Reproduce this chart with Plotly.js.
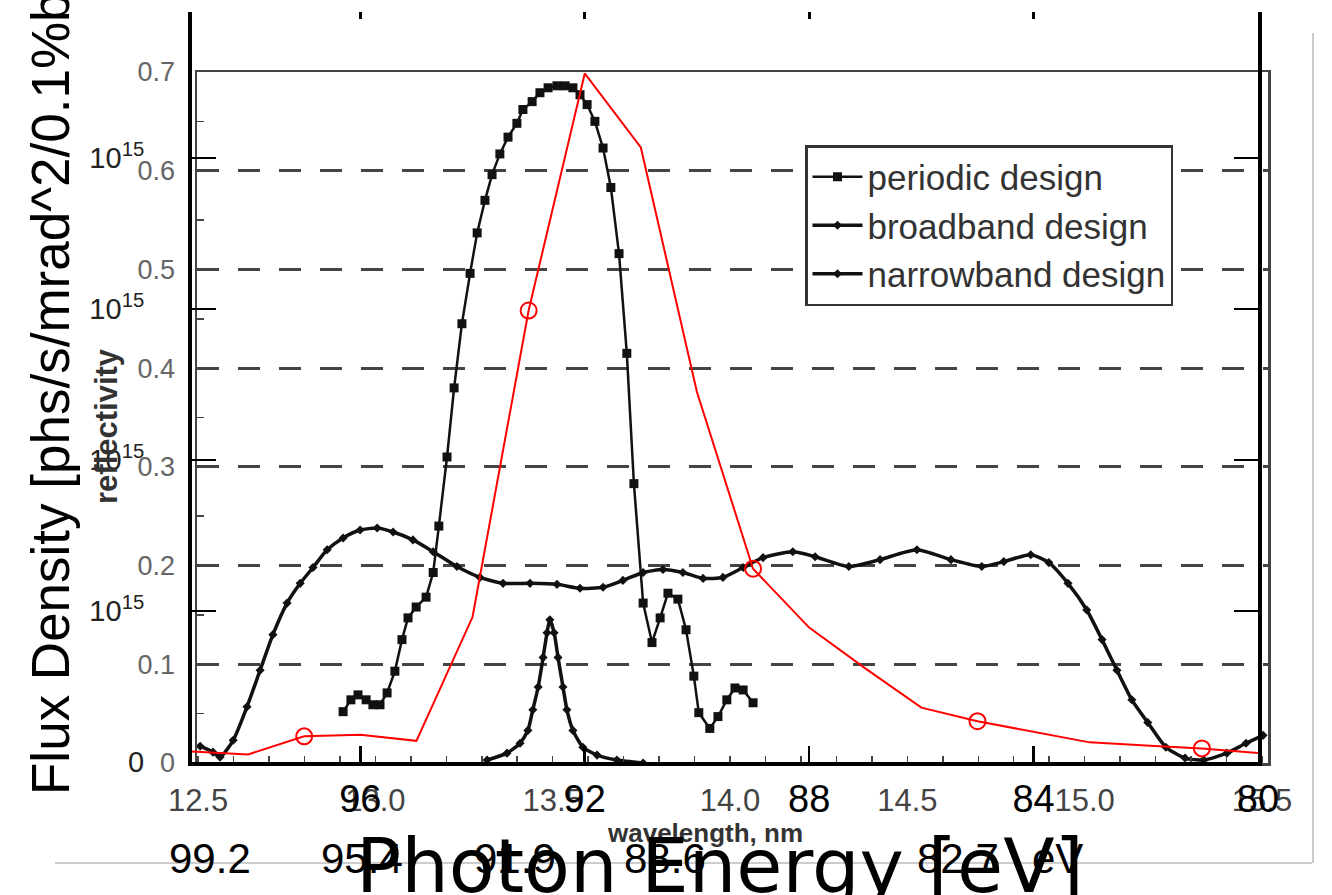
<!DOCTYPE html>
<html><head><meta charset="utf-8">
<script src="https://cdn.plot.ly/plotly-3.0.1.min.js"></script>
<style>html,body{margin:0;padding:0;background:#fff;}#chart{width:1332px;height:895px;}</style>
</head><body><div id="chart"></div>
<script>
// ---- reflectivity (wavelength, nm) ----
const periodicWl = [12.909,12.931,12.951,12.974,12.993,13.013,13.033,13.055,13.075,13.092,13.115,13.143,13.163,13.179,13.202,13.222,13.244,13.267,13.287,13.309,13.329,13.351,13.374,13.399,13.416,13.442,13.464,13.487,13.512,13.535,13.557,13.577,13.597,13.619,13.642,13.664,13.687,13.709,13.729,13.755,13.780,13.803,13.825,13.853,13.876,13.898,13.912,13.943,13.966,13.991,14.014,14.037,14.065];
const periodicR  = [0.052,0.064,0.069,0.064,0.059,0.059,0.071,0.093,0.125,0.147,0.158,0.168,0.193,0.240,0.310,0.380,0.445,0.496,0.537,0.570,0.596,0.617,0.634,0.648,0.662,0.670,0.679,0.684,0.686,0.686,0.684,0.677,0.667,0.650,0.623,0.583,0.516,0.415,0.283,0.162,0.122,0.147,0.172,0.166,0.135,0.088,0.051,0.035,0.047,0.064,0.076,0.074,0.061];

const broadbandWl = [12.506,12.542,12.562,12.599,12.638,12.675,12.711,12.751,12.788,12.824,12.864,12.909,12.957,13.005,13.050,13.106,13.163,13.230,13.295,13.360,13.436,13.512,13.577,13.642,13.698,13.755,13.811,13.867,13.924,13.980,14.037,14.093,14.177,14.240,14.335,14.423,14.527,14.623,14.710,14.772,14.848,14.899,14.953,15.006,15.049,15.091,15.133,15.178,15.229,15.283,15.336,15.401,15.455,15.503];
const broadbandR  = [0.017,0.011,0.006,0.023,0.057,0.094,0.130,0.162,0.182,0.198,0.216,0.228,0.236,0.238,0.234,0.226,0.214,0.199,0.188,0.182,0.182,0.181,0.177,0.178,0.185,0.193,0.196,0.193,0.187,0.188,0.198,0.208,0.214,0.209,0.199,0.206,0.216,0.206,0.199,0.204,0.211,0.203,0.182,0.155,0.125,0.094,0.064,0.041,0.016,0.005,0.003,0.010,0.020,0.028];

const narrowbandWl = [13.315,13.371,13.408,13.430,13.444,13.459,13.473,13.484,13.492,13.504,13.515,13.529,13.540,13.557,13.585,13.625,13.681,13.755];
const narrowbandR  = [0.003,0.010,0.020,0.033,0.054,0.077,0.107,0.132,0.145,0.132,0.107,0.077,0.054,0.033,0.016,0.008,0.003,0.000];

const wlTicks = [12.5,13.0,13.5,14.0,14.5,15.0,15.5];
const reflTicks = [0,0.1,0.2,0.3,0.4,0.5,0.6,0.7];

// ---- flux density (photon energy, eV), units of 1e15 ----
const energy = [99,98,97,96,95,94,93,92,91,90,89,88,87,86,85,84,83,82,81,80];
const flux   = [0.07,0.05,0.17,0.18,0.14,0.96,2.99,4.56,4.07,2.45,1.28,0.89,0.62,0.36,0.27,0.20,0.13,0.11,0.09,0.06];
const circleEnergy = [97,93,89,85,81];
const energyTicks = [96,92,88,84,80];
const fluxTicks = [0,1,2,3,4];
const fluxTickText = ['0','10<sup>15</sup>','10<sup>15</sup>','10<sup>15</sup>','10<sup>15</sup>'];

const seriesNames = ['periodic design','broadband design','narrowband design'];
const bottomLabels = ['99.2','95.4','91.9','88.6','82.7','eV'];

// ---- layout helpers (pixel -> paper) ----
const W = 1332, H = 895;
const fx = p => p / W;
const fy = p => 1 - p / H;
const circleFlux = circleEnergy.map(e => flux[energy.indexOf(e)]);

const sans = '"Liberation Sans", Arial, Helvetica, sans-serif';

const traces = [
  {x: periodicWl, y: periodicR, xaxis: 'x', yaxis: 'y', name: seriesNames[0], legendgroup: 'a',
   mode: 'lines+markers', line: {color: '#111', width: 2.5}, marker: {symbol: 'square', size: 9, color: '#111'}},
  {x: broadbandWl, y: broadbandR, xaxis: 'x', yaxis: 'y', name: seriesNames[1], legendgroup: 'b',
   mode: 'lines+markers', line: {color: '#111', width: 3.5, shape: 'spline', smoothing: 0.6}, marker: {symbol: 'diamond', size: 7, color: '#111'}},
  {x: narrowbandWl, y: narrowbandR, xaxis: 'x', yaxis: 'y', name: seriesNames[2], legendgroup: 'c',
   mode: 'lines+markers', line: {color: '#111', width: 3.5, shape: 'spline', smoothing: 0.6}, marker: {symbol: 'diamond', size: 7, color: '#111'}},
  {x: energy, y: flux, xaxis: 'x2', yaxis: 'y2', mode: 'lines', showlegend: false,
   line: {color: '#ff0000', width: 2}},
  {x: circleEnergy, y: circleFlux, xaxis: 'x3', yaxis: 'y2', mode: 'markers', showlegend: false,
   marker: {symbol: 'circle-open', size: 16, color: '#ff0000', line: {width: 2, color: '#ff0000'}}}
];

const layout = {
  width: W, height: H, autosize: false,
  margin: {l: 0, r: 0, t: 0, b: 0},
  paper_bgcolor: '#ffffff', plot_bgcolor: 'rgba(0,0,0,0)',
  font: {family: sans, color: '#333'},
  showlegend: true,
  legend: {x: fx(805), y: fy(145), xanchor: 'left', yanchor: 'top', bgcolor: '#ffffff',
           bordercolor: '#333', borderwidth: 2.5, font: {family: sans, size: 35, color: '#333'},
           itemwidth: 50, tracegroupgap: 11, traceorder: 'normal'},
  xaxis: {domain: [fx(197), fx(1268)], range: [12.497, 15.517], anchor: 'y',
          showline: true, linecolor: '#444', linewidth: 2.5, mirror: true,
          ticks: 'inside', ticklen: 7, tickwidth: 1.5, tickcolor: '#444',
          tickvals: wlTicks, tickformat: '.1f', ticklabelstandoff: 8,
          tickfont: {family: sans, size: 31, color: '#444'},
          minor: {dtick: 0.1, tick0: 12.5, ticks: 'inside', ticklen: 7, tickwidth: 1.5, tickcolor: '#444'},
          showgrid: false, zeroline: false},
  yaxis: {domain: [fy(763), fy(72)], range: [0, 0.7], anchor: 'x',
          showline: true, linecolor: '#444', linewidth: 2.5, mirror: true,
          ticks: 'inside', ticklen: 7, tickwidth: 1.5, tickcolor: '#444',
          tickvals: reflTicks, ticklabelstandoff: 14,
          tickfont: {family: sans, size: 27, color: '#666'},
          minor: {dtick: 0.05, ticks: 'inside', ticklen: 7, tickwidth: 1.5, tickcolor: '#444'},
          showgrid: true, gridcolor: '#444', gridwidth: 3, griddash: '22px,19px', zeroline: false},
  xaxis2: {domain: [fx(192), fx(1258)], range: [99, 80], anchor: 'y2',
           showline: true, linecolor: '#000', linewidth: 4,
           ticks: 'inside', ticklen: 16, tickwidth: 2.5, tickcolor: '#000',
           tickvals: energyTicks, ticklabelstandoff: 0,
           tickfont: {family: sans, size: 38, color: '#000'},
           showgrid: false, zeroline: false},
  xaxis3: {overlaying: 'x2', side: 'top', anchor: 'y2', range: [99, 80],
           showline: false, ticks: 'inside', ticklen: 7, tickwidth: 3, tickcolor: '#000',
           tickvals: energyTicks, showticklabels: false, showgrid: false, zeroline: false},
  yaxis2: {domain: [fy(762), fy(12)], range: [0, 4.967], anchor: 'x2',
           showline: true, linecolor: '#000', linewidth: 4, mirror: 'ticks',
           ticks: 'inside', ticklen: 24, tickwidth: 2.5, tickcolor: '#000',
           tickvals: fluxTicks, ticktext: fluxTickText, ticklabelstandoff: 38,
           tickfont: {family: sans, size: 29, color: '#222'},
           showgrid: false, zeroline: false},
  shapes: [
    {type: 'line', xref: 'paper', yref: 'paper', x0: fx(55), x1: fx(1312), y0: fy(863), y1: fy(863), line: {color: '#cccccc', width: 2}},
    {type: 'line', xref: 'paper', yref: 'paper', x0: fx(1313), x1: fx(1313), y0: fy(33), y1: fy(863), line: {color: '#cccccc', width: 2}}
  ],
  annotations: [
    {text: 'Flux Density [phs/s/mrad^2/0.1%bw]', xref: 'paper', yref: 'paper', x: fx(50), y: fy(797),
     xanchor: 'center', yanchor: 'bottom', textangle: -90, showarrow: false,
     font: {family: sans, size: 53, color: '#000'}},
    {text: '<b>reflectivity</b>', xref: 'paper', yref: 'paper', x: fx(106), y: fy(426),
     xanchor: 'center', yanchor: 'middle', textangle: -90, showarrow: false,
     font: {family: sans, size: 31, color: '#333'}},
    {text: '<b>wavelength, nm</b>', xref: 'paper', yref: 'paper', x: fx(705), y: fy(833),
     xanchor: 'center', yanchor: 'middle', showarrow: false,
     font: {family: sans, size: 26, color: '#333'}},
    {text: 'Photon Energy [eV]', xref: 'paper', yref: 'paper', x: fx(720), y: fy(866),
     xanchor: 'center', yanchor: 'middle', showarrow: false,
     font: {family: '"DejaVu Sans", sans-serif', size: 75, color: '#000'}}
  ]
};

const labelX = [210, 362, 515, 665, 958, 1057];
bottomLabels.forEach((t, i) => {
  layout.annotations.push({text: t, xref: 'paper', yref: 'paper', x: fx(labelX[i]), y: fy(858),
    xanchor: 'center', yanchor: 'middle', showarrow: false,
    font: {family: sans, size: 42, color: '#000'}});
});

Plotly.newPlot('chart', traces, layout, {displayModeBar: false, staticPlot: true});
</script>
</body></html>
